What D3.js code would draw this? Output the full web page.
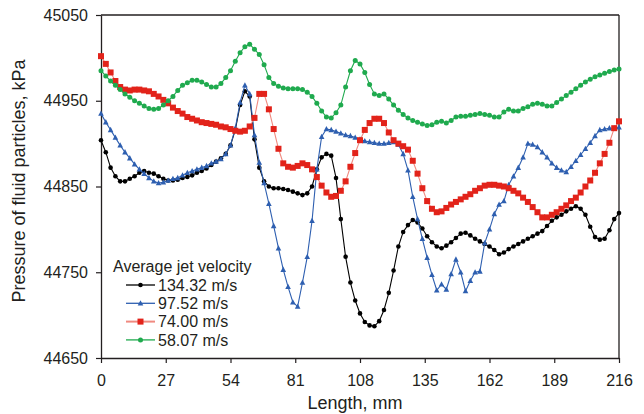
<!DOCTYPE html>
<html>
<head>
<meta charset="UTF-8">
<title>Pressure of fluid particles</title>
<script src="https://cdn.jsdelivr.net/npm/d3@7"></script>
<style type="text/css">
	body { margin:0; background-color:white; }
	text { font-family: "Liberation Sans", Arial, sans-serif; fill:#231f20; }
</style>
</head>
<body>
<script type="text/javascript">

// longueur, mm (pas de 2 mm)
var lengthMm = d3.range(0, 217, 2);

var xTicks = [0, 27, 54, 81, 108, 135, 162, 189, 216];
var yTicks = [44650, 44750, 44850, 44950, 45050];

var v134 = [44904,44890,44872,44862,44856,44856,44859,44862,44866,44868,44866,44865,44862,44859,44857,44857,44858,44860,44861,44863,
 44866,44868,44871,44875,44879,44883,44888,44898,44916,44945,44961,44955,44905,44872,44856,44850,44848,44848,44847,44846,
 44844,44842,44840,44842,44850,44870,44884,44888,44886,44860,44812,44768,44738,44717,44702,44692,44688,44687,44693,44706,
 44726,44752,44780,44797,44805,44811,44808,44801,44792,44785,44780,44778,44781,44785,44790,44795,44796,44793,44789,44786,
 44783,44780,44776,44771,44773,44777,44780,44783,44786,44789,44792,44795,44798,44804,44810,44814,44817,44821,44824,44827,
 44824,44817,44803,44791,44788,44789,44799,44812,44819];

var v97 = [44935,44925,44916,44907,44898,44890,44883,44876,44870,44865,44860,44856,44854,44855,44857,44859,44860,44863,44866,44868,
 44870,44872,44874,44877,44879,44882,44888,44898,44918,44948,44968,44958,44910,44878,44854,44830,44804,44778,44753,44733,
 44715,44710,44738,44768,44810,44870,44908,44917,44916,44914,44912,44910,44909,44907,44905,44903,44902,44901,44900,44900,
 44901,44902,44899,44888,44869,44838,44812,44789,44767,44747,44729,44736,44730,44748,44765,44750,44728,44740,44750,44751,
 44784,44800,44818,44829,44833,44852,44862,44872,44884,44900,44899,44896,44890,44884,44877,44872,44869,44867,44873,44880,
 44887,44894,44901,44909,44916,44917,44918,44918,44919];

var v74 = [45002,44993,44983,44973,44966,44963,44962,44963,44963,44962,44961,44958,44955,44951,44947,44942,44938,44935,44931,44929,
 44927,44925,44924,44923,44922,44920,44919,44917,44915,44914,44915,44920,44930,44958,44958,44940,44917,44894,44877,44873,
 44872,44874,44877,44875,44870,44861,44851,44843,44838,44839,44845,44856,44873,44889,44904,44916,44924,44929,44929,44924,
 44913,44904,44900,44897,44893,44880,44865,44848,44833,44824,44820,44821,44825,44829,44832,44835,44838,44841,44845,44848,
 44851,44852,44852,44851,44850,44848,44845,44842,44837,44832,44826,44820,44814,44814,44817,44820,44824,44828,44833,44837,
 44843,44850,44857,44866,44877,44888,44901,44918,44926];

var v58 = [44985,44979,44973,44968,44963,44958,44954,44950,44947,44944,44941,44940,44941,44945,44950,44955,44962,44968,44971,44974,
 44974,44972,44969,44966,44966,44970,44977,44985,44996,45006,45013,45016,45010,45004,44992,44977,44970,44967,44965,44964,
 44964,44964,44963,44960,44955,44947,44938,44931,44930,44936,44945,44966,44985,44997,44993,44983,44969,44958,44956,44958,
 44952,44945,44939,44934,44930,44927,44925,44923,44921,44922,44925,44926,44924,44927,44931,44932,44932,44933,44934,44935,
 44934,44933,44931,44931,44937,44940,44938,44938,44941,44943,44946,44947,44946,44944,44944,44948,44952,44956,44960,44964,
 44968,44972,44975,44978,44980,44982,44984,44986,44987];

var seriesNames = ['134.32 m/s', '97.52 m/s', '74.00 m/s', '58.07 m/s'];

var W = 644, H = 414,
 marge = {haut:15, droite:25, bas:56, gauche:101},
 axeCol = '#231f20';

var series = [
	{nom:seriesNames[0], val:v134, ligne:'#000000', pt:'#000000', forme:'rond', taille:2.3},
	{nom:seriesNames[1], val:v97, ligne:'#2e5fb0', pt:'#2e5fb0', forme:'tri', taille:2.8},
	{nom:seriesNames[2], val:v74, ligne:'#f08a80', pt:'#e2231a', forme:'carre', taille:3},
	{nom:seriesNames[3], val:v58, ligne:'#1faa4e', pt:'#1faa4e', forme:'rond', taille:2.5}
];

var svg = d3.select('body').append('svg')
	.attr('width', W)
	.attr('height', H);

var x = d3.scaleLinear().domain([0, 216]).range([marge.gauche, W - marge.droite]);
var y = d3.scaleLinear().domain([44650, 45050]).range([358, marge.haut]);

// cadre haut et droite
svg.append('line').attr('x1', x(0)).attr('x2', x(216)).attr('y1', y(45050)).attr('y2', y(45050))
	.attr('stroke', axeCol).attr('stroke-width', 1.3);
svg.append('line').attr('x1', x(216)).attr('x2', x(216)).attr('y1', y(45050)).attr('y2', y(44650))
	.attr('stroke', axeCol).attr('stroke-width', 1.3);

var axeX = svg.append('g')
	.attr('transform', 'translate(0,' + y(44650) + ')')
	.call(d3.axisBottom(x).tickValues(xTicks).tickSize(5).tickSizeOuter(0).tickPadding(12));
var axeY = svg.append('g')
	.attr('transform', 'translate(' + x(0) + ',0)')
	.call(d3.axisLeft(y).tickValues(yTicks).tickSize(5).tickSizeOuter(0).tickPadding(8).tickFormat(d3.format('d')));

[axeX, axeY].forEach(function(a){
	a.select('.domain').attr('stroke', axeCol).attr('stroke-width', 1.3);
	a.selectAll('.tick line').attr('stroke', axeCol).attr('stroke-width', 1.2);
	a.selectAll('.tick text').attr('font-size', 16).attr('font-family', '"Liberation Sans", Arial, sans-serif').attr('fill', axeCol);
});

// titres des axes
svg.append('text')
	.attr('x', 355).attr('y', 409)
	.attr('text-anchor', 'middle')
	.attr('font-size', 18)
	.text('Length, mm');
svg.append('text')
	.attr('transform', 'translate(25,181) rotate(-90)')
	.attr('text-anchor', 'middle')
	.attr('font-size', 18)
	.text('Pressure of fluid particles, kPa');

function marque(g, s, cx, cy) {
	if (s.forme == 'rond') {
		g.append('circle').attr('cx', cx).attr('cy', cy).attr('r', s.taille).attr('fill', s.pt);
	} else if (s.forme == 'carre') {
		g.append('rect').attr('x', cx - s.taille).attr('y', cy - s.taille)
			.attr('width', s.taille * 2).attr('height', s.taille * 2).attr('fill', s.pt);
	} else {
		var t = s.taille;
		g.append('path')
			.attr('d', 'M' + cx + ',' + (cy - t * 1.1) + 'L' + (cx + t) + ',' + (cy + t * 0.8) + 'L' + (cx - t) + ',' + (cy + t * 0.8) + 'Z')
			.attr('fill', s.pt);
	}
}

var ligne = d3.line()
	.x(function(d){ return x(d[0]); })
	.y(function(d){ return y(d[1]); });

series.forEach(function(s){
	var pts = lengthMm.map(function(l, i){ return [l, s.val[i]]; });
	var g = svg.append('g');
	g.append('path')
		.attr('d', ligne(pts))
		.attr('fill', 'none')
		.attr('stroke', s.ligne)
		.attr('stroke-width', 1.1);
	pts.forEach(function(p){ marque(g, s, x(p[0]), y(p[1])); });
});

// légende
var leg = svg.append('g');
leg.append('text').attr('x', 113).attr('y', 272).attr('font-size', 16).text('Average jet velocity');
series.forEach(function(s, i){
	var cy = 285 + i * 18.3;
	var gl = leg.append('g');
	gl.append('line').attr('x1', 126).attr('x2', 155).attr('y1', cy).attr('y2', cy)
		.attr('stroke', s.ligne).attr('stroke-width', s.forme == 'carre' ? 2 : 1.3);
	marque(gl, s, 140.5, cy);
	gl.append('text').attr('x', 158).attr('y', cy + 5.8).attr('font-size', 16).text(s.nom);
});

</script>
</body>
</html>
